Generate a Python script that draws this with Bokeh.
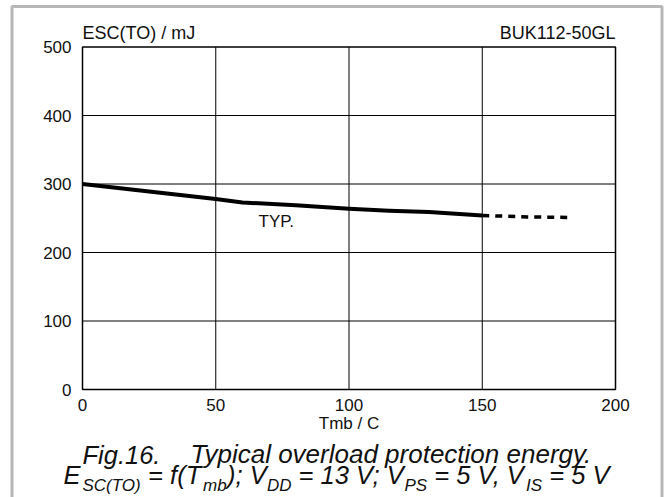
from bokeh.plotting import figure
from bokeh.models import Label, PolyAnnotation, Range1d, FixedTicker
from bokeh.embed import file_html
from bokeh.resources import INLINE

# ---- data ----
temp_typ = [0, 25, 50, 60, 80, 100, 115, 130, 150]
esc_typ = [300, 289, 278, 273, 269, 264, 261, 259, 254]
temp_ext = [150, 167, 184]
esc_ext = [254, 252, 251]
x_ticks = [0, 50, 100, 150, 200]
y_ticks = [0, 100, 200, 300, 400, 500]

FONT = "Liberation Sans"
INK = "#111111"
W, H = 667, 497
# pixel box of the plotting area in the reference
FL, FR, FT, FB = 82, 615, 46.5, 389
X0, X1 = x_ticks[0], x_ticks[-1]
Y0, Y1 = y_ticks[0], y_ticks[-1]


def dx(px):
    return X0 + (px - FL) * (X1 - X0) / (FR - FL)


def dy(py):
    return Y0 + (FB - py) * (Y1 - Y0) / (FB - FT)


# the frame covers the whole canvas; the ranges are chosen so that
# 0..200 / 0..500 fall onto the reference's plotting box
p = figure(width=W, height=H,
           x_range=Range1d(dx(0), dx(W)), y_range=Range1d(dy(H), dy(0)),
           output_backend="svg", toolbar_location=None, title=None,
           min_border=0)
p.background_fill_color = "white"
p.border_fill_color = "white"
p.outline_line_color = None
p.xgrid.visible = False
p.ygrid.visible = False

xa, ya = p.xaxis[0], p.yaxis[0]
xa.fixed_location = Y0
ya.fixed_location = X0
xa.bounds = (X0, X1)
ya.bounds = (Y0, Y1)
for ax in (xa, ya):
    ax.axis_line_color = None
    ax.major_tick_line_color = None
    ax.minor_tick_line_color = None
    ax.major_label_text_font = FONT
    ax.major_label_text_font_size = "17px"
    ax.major_label_text_color = INK
xa.ticker = FixedTicker(ticks=x_ticks)
ya.ticker = FixedTicker(ticks=y_ticks)
xa.major_label_standoff = 3
ya.major_label_standoff = 5
xa.axis_label = "Tmb / C"
xa.axis_label_text_font = FONT
xa.axis_label_text_font_size = "17px"
xa.axis_label_text_font_style = "normal"
xa.axis_label_text_color = INK
xa.axis_label_standoff = 0

# grid lines from the tick arrays
inner_x = x_ticks[1:-1]
inner_y = y_ticks[1:-1]
p.segment(x0=inner_x, y0=[Y0] * len(inner_x), x1=inner_x, y1=[Y1] * len(inner_x),
          line_color="black", line_width=1)
p.segment(x0=[X0] * len(inner_y), y0=inner_y, x1=[X1] * len(inner_y), y1=inner_y,
          line_color="black", line_width=1)
# plot box
p.quad(left=[X0], right=[X1], bottom=[Y0], top=[Y1], fill_color=None,
       line_color="black", line_width=1.5)

# curves
p.line(temp_typ, esc_typ, line_width=4, line_color="black", line_join="round")
p.line(temp_ext, esc_ext, line_width=3.5, line_color="black", line_dash="7 6")


def lab(text, px, py, size, align="left", style="normal"):
    # py is the wanted baseline in pixels; the label is drawn ~0.35 em lower
    p.add_layout(Label(x=dx(px), y=dy(py - 0.35 * size), text=text,
                       text_font=FONT, text_font_size=f"{size}px", text_align=align,
                       text_baseline="alphabetic", text_color=INK,
                       text_font_style=style))


lab("ESC(TO) / mJ", 82, 39, 18)
lab("BUK112-50GL", 615, 39, 18, align="right")
lab("TYP.", 258, 227, 17)

lab("Fig.16.", 82, 463, 25.5, style="italic")
lab("Typical overload protection energy.", 190, 463, 26, style="italic")

# caption line 2 with subscripts (left edge of each piece in pixels)
MAIN, SUB = 25.5, 17
base, sub_base = 483, 491
pieces = [("E", False, 63), ("SC(TO)", True, 82), ("= f(T", False, 147.6),
          ("mb", True, 202.5), ("); V", False, 226.5), ("DD", True, 266.5),
          ("= 13 V; V", False, 298.1), ("PS", True, 404),
          ("= 5 V, V", False, 433.8), ("IS", True, 525.5), ("= 5 V", False, 548.7)]
for text, is_sub, px in pieces:
    lab(text, px, sub_base if is_sub else base, SUB if is_sub else MAIN, style="italic")

# outer frame of the figure
p.add_layout(PolyAnnotation(xs=[dx(11.5), dx(661.5), dx(661.5), dx(11.5)],
                            ys=[dy(6), dy(6), dy(H + 20), dy(H + 20)],
                            fill_color=None, fill_alpha=0, line_color=INK, line_width=3))

open("out.html", "w").write(file_html(p, INLINE))
